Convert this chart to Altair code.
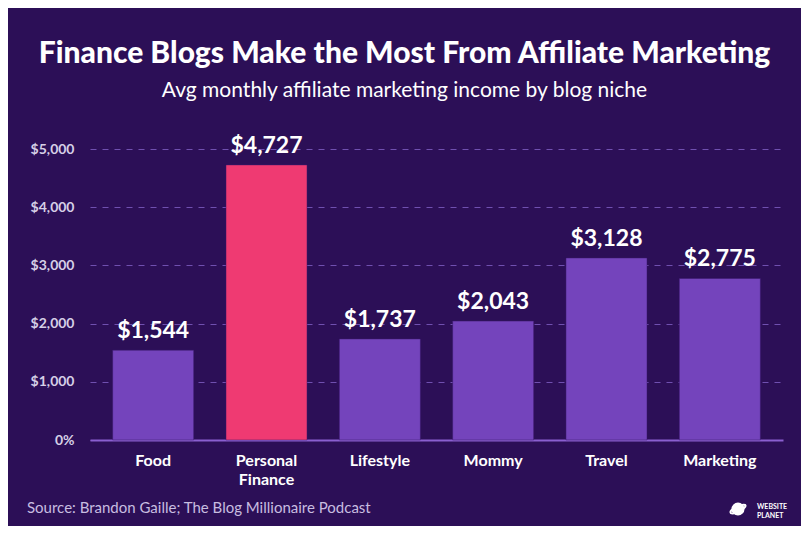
import altair as alt
import pandas as pd

categories = ["Food", "Personal Finance", "Lifestyle", "Mommy", "Travel", "Marketing"]
values = [1544, 4727, 1737, 2043, 3128, 2775]
highlight = ["Personal Finance"]
y_ticks = [0, 1000, 2000, 3000, 4000, 5000]
title_text = "Finance Blogs Make the Most From Affiliate Marketing"
subtitle_text = "Avg monthly affiliate marketing income by blog niche"
source_text = "Source: Brandon Gaille; The Blog Millionaire Podcast"
logo_lines = ["WEBSITE", "PLANET"]

BG = "#2c0f57"
PURPLE = "#7444bc"
PINK = "#ef3a72"
FONT = "Lato"

df = pd.DataFrame({"niche": categories, "income": values})
df["group"] = ["highlight" if c in highlight else "other" for c in categories]
df["label"] = ["$" + f"{v:,}" for v in values]

x_enc = alt.X(
    "niche:N",
    sort=categories,
    scale=alt.Scale(paddingInner=0.285, paddingOuter=0.2),
    axis=alt.Axis(
        title=None,
        labelAngle=0,
        labelExpr="split(datum.label, ' ')",
        labelFont=FONT,
        labelFontWeight="bold",
        labelFontSize=16,
        labelColor="#ffffff",
        labelPadding=12,
        labelLineHeight=19,
        labelBaseline="top",
        ticks=False,
        domain=True,
        domainColor="#8a5fd0",
        domainWidth=2,
        grid=False,
    ),
)

y_enc = alt.Y(
    "income:Q",
    scale=alt.Scale(domain=[0, 5000], nice=False),
    axis=alt.Axis(
        title=None,
        values=y_ticks,
        labelExpr="datum.value == 0 ? '0%' : '$' + format(datum.value, ',')",
        labelFont=FONT,
        labelFontWeight="bold",
        labelFontSize=14,
        labelColor="#d6cfe6",
        labelPadding=16,
        ticks=False,
        domain=False,
        grid=True,
        gridColor="#7050b0",
        gridDash=[6, 6],
        gridWidth=1,
    ),
)

bars = alt.Chart(df).mark_bar(stroke="#3a1a6a", strokeWidth=0.5).encode(
    x=x_enc,
    y=y_enc,
    color=alt.Color(
        "group:N",
        scale=alt.Scale(domain=["highlight", "other"], range=[PINK, PURPLE]),
        legend=None,
    ),
)

labels = alt.Chart(df).mark_text(
    font=FONT, fontWeight="bold", fontSize=23, color="#ffffff",
    baseline="bottom", dy=-7,
).encode(x=alt.X("niche:N", sort=categories), y="income:Q", text="label:N")

title = alt.Chart(pd.DataFrame({"t": [title_text]})).mark_text(
    font=FONT, fontWeight=900, fontSize=30, color="#ffffff", align="center", baseline="alphabetic"
).encode(text="t:N", x=alt.value(314.5), y=alt.value(-86))

subtitle = alt.Chart(pd.DataFrame({"t": [subtitle_text]})).mark_text(
    font=FONT, fontWeight="normal", fontSize=21, color="#ffffff", align="center", baseline="alphabetic"
).encode(text="t:N", x=alt.value(314.5), y=alt.value(-52))

source = alt.Chart(pd.DataFrame({"t": [source_text]})).mark_text(
    font=FONT, fontWeight="normal", fontSize=15, color="#c8bde0", align="left", baseline="alphabetic"
).encode(text="t:N", x=alt.value(-63), y=alt.value(364))

logo_text = alt.Chart(pd.DataFrame({"t": [logo_lines]})).mark_text(
    font=FONT, fontWeight="bold", fontSize=7, color="#ffffff", align="left",
    baseline="top", lineHeight=9,
).encode(text="t", x=alt.value(667), y=alt.value(354))

logo_dot = alt.Chart(pd.DataFrame({"t": [0]})).mark_point(
    filled=True, color="#ffffff", size=170, opacity=1
).encode(x=alt.value(648), y=alt.value(360))

logo_ring = alt.Chart(pd.DataFrame({"t": [0]})).mark_point(
    shape="M -1.6 0.9 C -2.2 0.2 0.8 -1.2 1.6 -0.9 C 2.2 -0.3 -0.8 1.3 -1.6 0.9 Z",
    filled=False, stroke="#ffffff", strokeWidth=2, size=80, opacity=1
).encode(x=alt.value(648), y=alt.value(360))

chart = alt.layer(bars, labels, title, subtitle, source, logo_ring, logo_dot, logo_text).properties(
    width=693,
    height=291,
    autosize=alt.AutoSizeParams(type="none"),
    padding={"left": 82, "top": 141, "right": 18, "bottom": 86},
    background=BG,
).configure_view(stroke=None)

chart.save("out.html", embed_options={"renderer": "svg", "actions": False})
